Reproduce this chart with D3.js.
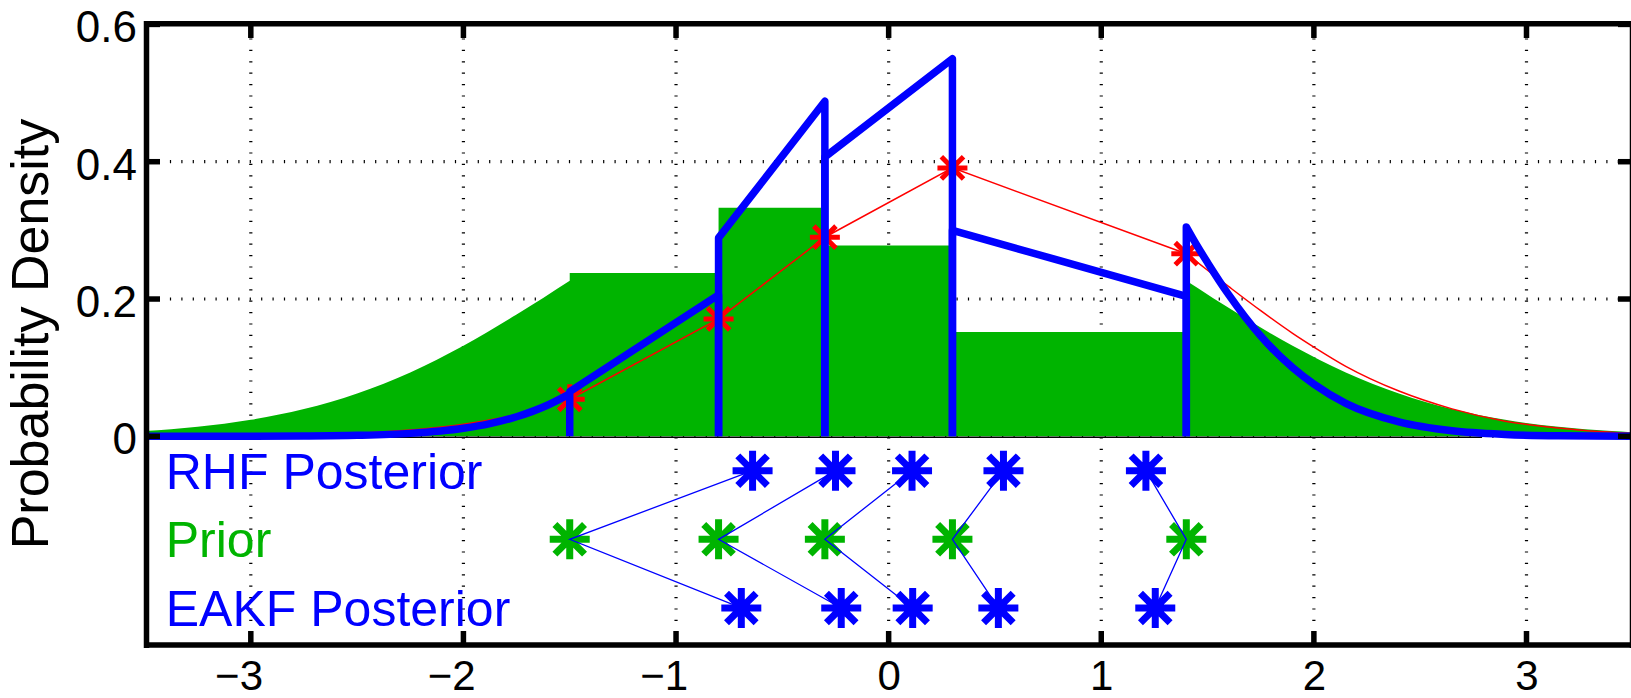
<!DOCTYPE html>
<html><head><meta charset="utf-8">
<script src="https://cdn.jsdelivr.net/npm/d3@7"></script>
<style>
body{margin:0;background:#fff;}
svg{display:block;}
text{font-family:"Liberation Sans",Arial,Helvetica,sans-serif;}
</style>
</head><body>
<svg id="chart" width="1631" height="698"></svg>
<script>
// ---------- data ----------
const xTicks = [-3, -2, -1, 0, 1, 2, 3];
const yTicks = [0, 0.2, 0.4, 0.6];
const yGrid = [0, 0.2, 0.4];

const priorEnsemble = [-1.5, -0.8, -0.3, 0.3, 1.4];
const rhfPosterior  = [-0.64, -0.25, 0.11, 0.54, 1.21];
const eakfPosterior = [-0.693, -0.223, 0.113, 0.516, 1.254];

// prior (rank histogram) density: interior bin heights and gaussian tails
const priorBinHeights = [0.238, 0.333, 0.278, 0.152];
const priorLeftTailX  = [-3.5, -3.25, -3.0, -2.75, -2.5, -2.25, -2.0, -1.75, -1.5];
const priorLeftTailY  = [0.0076, 0.0139, 0.0241, 0.0398, 0.0625, 0.0931, 0.1318, 0.1773, 0.2265];
const priorRightTailX = [1.4, 1.65, 1.9, 2.15, 2.4, 2.65, 2.9, 3.15, 3.4, 3.5];
const priorRightTailY = [0.2265, 0.1773, 0.1318, 0.0931, 0.0625, 0.0398, 0.0241, 0.0139, 0.0076, 0.0059];

// likelihood (red)
const likeAtMembers = [0.054, 0.171, 0.290, 0.391, 0.266];
const likeLeftTailX  = [-3.5, -3.0, -2.5, -2.0, -1.75, -1.5];
const likeLeftTailY  = [0.0001, 0.0009, 0.0044, 0.0175, 0.0317, 0.054];
const likeRightTailX = [1.4, 1.6, 1.75, 1.9, 2.0, 2.15, 2.4, 2.65, 2.9, 3.15, 3.3, 3.5];
const likeRightTailY = [0.266, 0.218, 0.183, 0.150, 0.130, 0.102, 0.066, 0.040, 0.022, 0.012, 0.0079, 0.0044];

// RHF posterior density (blue)
const postBinLeft  = [0.065, 0.289, 0.407, 0.300];
const postBinRight = [0.206, 0.488, 0.550, 0.204];
const postLeftTailX  = [-3.5, -3.0, -2.75, -2.5, -2.25, -2.0, -1.875, -1.75, -1.6, -1.5];
const postLeftTailY  = [0.0000, 0.0001, 0.0004, 0.0014, 0.0043, 0.0117, 0.0185, 0.0285, 0.0460, 0.0619];
const postRightTailX = [1.4, 1.45, 1.5, 1.6, 1.75, 1.9, 2.0, 2.15, 2.4, 2.65, 2.9, 3.15, 3.5];
const postRightTailY = [0.305, 0.278, 0.253, 0.206, 0.146, 0.100, 0.076, 0.048, 0.021, 0.008, 0.0027, 0.0008, 0.0001];

const rowLabels = ["RHF Posterior", "Prior", "EAKF Posterior"];
const rowY = [-0.05, -0.15, -0.25];
const baselineEnd = 2.79;

// ---------- styles ----------
const GREEN = "#00b400", BLUE = "#0000ff", RED = "#ff0000";

const svg = d3.select("#chart");
const x = d3.scaleLinear().domain([-3.5, 3.5]).range([144.5, 1632.8]);
const y = d3.scaleLinear().domain([-0.3, 0.6]).range([642.3, 24.4]);
const zip = (xs, ys) => xs.map((v, i) => [v, ys[i]]);

const curve = d3.line().x(d => x(d[0])).y(d => y(d[1])).curve(d3.curveMonotoneX);
const lin = d3.line().x(d => x(d[0])).y(d => y(d[1]));

// grid
const grid = svg.append("g").attr("stroke", "#000").attr("stroke-width", 3.2)
  .attr("stroke-dasharray", "1.2 10.2");
grid.selectAll(".gx").data(xTicks).join("line")
  .attr("x1", d => x(d)).attr("x2", d => x(d))
  .attr("y1", y(0.6) + 14).attr("y2", y(-0.3) - 2);
grid.selectAll(".gy").data(yGrid).join("line")
  .attr("y1", d => y(d)).attr("y2", d => y(d))
  .attr("x1", x(-3.5) + 14).attr("x2", x(3.5));

// prior area (green)
const leftTail = zip(priorLeftTailX, priorLeftTailY);
const rightTail = zip(priorRightTailX, priorRightTailY);
let steps = [];
priorBinHeights.forEach((h, i) => {
  steps.push([priorEnsemble[i], h], [priorEnsemble[i + 1], h]);
});
let greenPath = curve(leftTail) + lin(steps).replace(/^M/, "L") +
  curve(rightTail).replace(/^M/, "L") +
  "L" + x(3.5) + "," + y(0) + "L" + x(-3.5) + "," + y(0) + "Z";
svg.append("path").attr("d", greenPath).attr("fill", GREEN);

// thin baseline
svg.append("line").attr("x1", x(-3.5)).attr("x2", x(baselineEnd))
  .attr("y1", y(0) + 1).attr("y2", y(0) + 1).attr("stroke", "#000").attr("stroke-width", 1.5);

// asterisk marker
function aster(r) {
  const d = r * 0.74;
  return `M${-r},0L${r},0M0,${-r}L0,${r}M${-d},${-d}L${d},${d}M${-d},${d}L${d},${-d}`;
}

// likelihood (red)
const redPath = curve(zip(likeLeftTailX, likeLeftTailY)) +
  lin(zip(priorEnsemble, likeAtMembers)).replace(/^M/, "L") +
  curve(zip(likeRightTailX, likeRightTailY)).replace(/^M/, "L");
svg.append("path").attr("d", redPath).attr("fill", "none").attr("stroke", RED).attr("stroke-width", 1.5);
svg.append("g").selectAll("path").data(priorEnsemble).join("path")
  .attr("d", aster(15)).attr("transform", (d, i) => `translate(${x(d)},${y(likeAtMembers[i])})`)
  .attr("stroke", RED).attr("stroke-width", 5).attr("fill", "none");

// RHF posterior density (blue)
const blue = svg.append("g").attr("fill", "none").attr("stroke", BLUE).attr("stroke-width", 7.5)
  .attr("stroke-linejoin", "round");
blue.append("path").attr("d", curve(zip(postLeftTailX, postLeftTailY)));
postBinLeft.forEach((h, i) => {
  const a = priorEnsemble[i], b = priorEnsemble[i + 1];
  blue.append("path").attr("d", lin([[a, 0], [a, h], [b, postBinRight[i]], [b, 0]]));
});
blue.append("path").attr("d",
  lin([[priorEnsemble[4], 0]]) + curve(zip(postRightTailX, postRightTailY)).replace(/^M/, "L"));

// ensemble rows
const rows = [rhfPosterior, priorEnsemble, eakfPosterior];
const rowColors = [BLUE, GREEN, BLUE];
rows.forEach((vals, r) => {
  svg.append("g").selectAll("path").data(vals).join("path")
    .attr("d", aster(20)).attr("transform", d => `translate(${x(d)},${y(rowY[r])})`)
    .attr("stroke", rowColors[r]).attr("stroke-width", 7).attr("fill", "none");
});
// connecting lines prior -> posteriors
const conn = svg.append("g").attr("stroke", BLUE).attr("stroke-width", 1.3).attr("fill", "none");
priorEnsemble.forEach((p, i) => {
  conn.append("path").attr("d", lin([[rhfPosterior[i], rowY[0]], [p, rowY[1]], [eakfPosterior[i], rowY[2]]]));
});

// row labels
rowLabels.forEach((t, r) => {
  svg.append("text").attr("x", x(-3.4)).attr("y", y(rowY[r]) + 18)
    .attr("font-size", 50).attr("fill", rowColors[r]).text(t);
});

// axes box
const ax = svg.append("g").attr("stroke", "#000").attr("stroke-width", 5.5).attr("fill", "none");
ax.append("line").attr("x1", 146.5).attr("x2", 146.5).attr("y1", 21).attr("y2", 648);
ax.append("line").attr("x1", 144).attr("x2", 1640).attr("y1", 23.7).attr("y2", 23.7);
ax.append("line").attr("x1", 144).attr("x2", 1640).attr("y1", 645).attr("y2", 645);
ax.append("line").attr("x1", 1632.5).attr("x2", 1632.5).attr("y1", 21).attr("y2", 648);
// ticks
xTicks.forEach(t => {
  ax.append("line").attr("x1", x(t)).attr("x2", x(t)).attr("y1", 24).attr("y2", 38);
  ax.append("line").attr("x1", x(t)).attr("x2", x(t)).attr("y1", 645).attr("y2", 631);
});
yTicks.forEach(t => {
  ax.append("line").attr("x1", 146).attr("x2", 160).attr("y1", y(t)).attr("y2", y(t));
  ax.append("line").attr("x1", 1632).attr("x2", 1618).attr("y1", y(t)).attr("y2", y(t));
});

// tick labels
const fmtX = v => (v < 0 ? "\u2212" : "") + Math.abs(v);
svg.append("g").selectAll("text").data(xTicks).join("text")
  .attr("x", d => x(d) + 12.2).attr("y", 690).attr("text-anchor", "end")
  .attr("font-size", 42).text(fmtX);
svg.append("g").selectAll("text").data(yTicks).join("text")
  .attr("x", 137).attr("y", d => y(d) + 18).attr("text-anchor", "end")
  .attr("font-size", 44).text(d => d === 0 ? "0" : d.toFixed(1));

// y axis label
svg.append("text").attr("transform", "translate(48,334) rotate(-90)")
  .attr("text-anchor", "middle").attr("font-size", 52).text("Probability Density");
</script>
</body></html>
